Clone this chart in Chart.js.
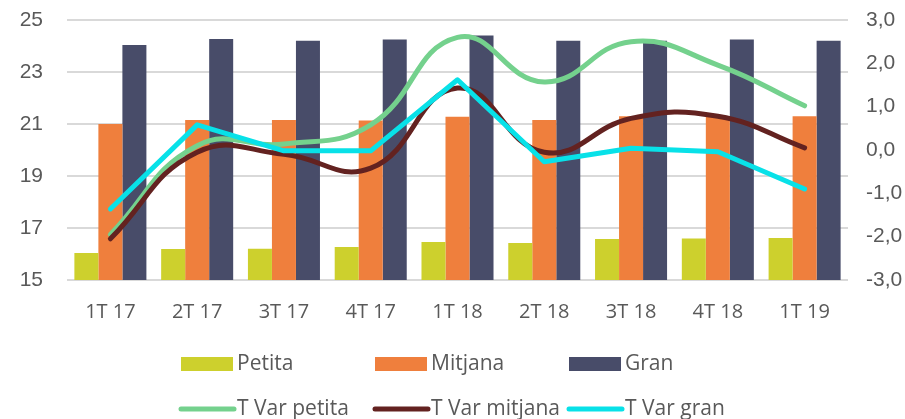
<!DOCTYPE html>
<html>
<head>
<meta charset="utf-8">
<script src="https://cdn.jsdelivr.net/npm/chart.js@4/dist/chart.umd.min.js"></script>
<style>
  html, body { margin: 0; padding: 0; background: #fff; }
  #wrap { width: 905px; height: 419px; position: relative; }
</style>
</head>
<body>
<div id="wrap"><canvas id="c"></canvas></div>
<script>
const quarters = ['1T 17', '2T 17', '3T 17', '4T 17', '1T 18', '2T 18', '3T 18', '4T 18', '1T 19'];

// bars (left axis)
const petita  = [16.04, 16.19, 16.2, 16.27, 16.46, 16.42, 16.58, 16.6, 16.62];
const mitjana = [21.0, 21.15, 21.15, 21.13, 21.28, 21.15, 21.3, 21.3, 21.3];
const gran    = [24.04, 24.27, 24.2, 24.25, 24.4, 24.2, 24.2, 24.25, 24.2];

// lines (right axis)
const varPetita  = [-1.95, 0.1, 0.14, 0.58, 2.6, 1.57, 2.5, 1.96, 1.02];
const varMitjana = [-2.05, -0.05, -0.1, -0.42, 1.43, -0.05, 0.73, 0.78, 0.05];
const varGran    = [-1.36, 0.58, -0.02, -0.02, 1.62, -0.27, 0.04, -0.04, -0.9];

const textColor = '#595959';
const gridColor = '#d9d9d9';

const barSet = (label, data, color) => ({
  type: 'bar', label, data, yAxisID: 'y', order: 4,
  backgroundColor: color,
  categoryPercentage: 0.83, barPercentage: 1.0,
});

const lineSet = (label, data, color, tension, order) => ({
  type: 'line', label, data, yAxisID: 'y1', order,
  borderColor: color, backgroundColor: color,
  borderWidth: 5, pointRadius: 0, tension,
  borderCapStyle: 'round', borderJoinStyle: 'round',
});

// two-row legend drawn under the plot
const legendPlugin = {
  id: 'twoRowLegend',
  afterDraw(chart) {
    const ctx = chart.ctx;
    const cols = [181, 375, 569];
    const rows = [364, 409];
    ctx.save();
    ctx.font = '21px "Open Sans"';
    ctx.textBaseline = 'middle';
    chart.data.datasets.forEach((ds, i) => {
      const x = cols[i % 3];
      const y = rows[Math.floor(i / 3)];
      if (ds.type === 'bar') {
        ctx.fillStyle = ds.backgroundColor;
        ctx.fillRect(x, y - 7, 52, 14);
      } else {
        ctx.strokeStyle = ds.borderColor;
        ctx.lineWidth = 5;
        ctx.lineCap = 'round';
        ctx.beginPath();
        ctx.moveTo(x, y);
        ctx.lineTo(x + 53, y);
        ctx.stroke();
      }
      ctx.fillStyle = textColor;
      ctx.fillText(ds.label, x + 56, y);
    });
    ctx.restore();
  }
};

const fixVertical = w => s => { s.width = w; s.paddingTop = 0; s.paddingBottom = 0; };

new Chart(document.getElementById('c'), {
  data: {
    labels: quarters,
    datasets: [
      barSet('Petita', petita, '#cdd02d'),
      barSet('Mitjana', mitjana, '#ef7f3d'),
      barSet('Gran', gran, '#484c69'),
      lineSet('T Var petita', varPetita, '#74d18d', 0.45, 3),
      lineSet('T Var mitjana', varMitjana, '#632220', 0.45, 2),
      lineSet('T Var gran', varGran, '#08e1e8', 0, 1),
    ],
  },
  options: {
    responsive: true,
    maintainAspectRatio: false,
    animation: false,
    layout: { padding: { top: 20, left: 0, right: 0, bottom: 0 } },
    plugins: { legend: { display: false }, tooltip: { enabled: false } },
    scales: {
      x: {
        offset: true,
        grid: { display: false },
        border: { display: false },
        ticks: { color: textColor, font: { family: 'Open Sans', size: 20 }, padding: 12, maxRotation: 0 },
        afterFit(s) { s.height = 139; s.paddingLeft = 0; s.paddingRight = 0; },
      },
      y: {
        position: 'left',
        min: 15, max: 25,
        grid: { color: gridColor, lineWidth: 2, drawTicks: false },
        border: { display: false },
        ticks: { stepSize: 2, color: textColor, font: { family: 'Liberation Sans', size: 21 }, padding: 24 },
        afterFit: fixVertical(67),
      },
      y1: {
        position: 'right',
        min: -3, max: 3,
        grid: { display: false, drawTicks: false },
        border: { display: false },
        ticks: {
          stepSize: 1, color: textColor, font: { family: 'Liberation Sans', size: 21 }, padding: 18,
          callback: v => v.toFixed(1).replace('.', ','),
        },
        afterFit: fixVertical(57),
      },
    },
  },
  plugins: [legendPlugin],
});
</script>
</body>
</html>
